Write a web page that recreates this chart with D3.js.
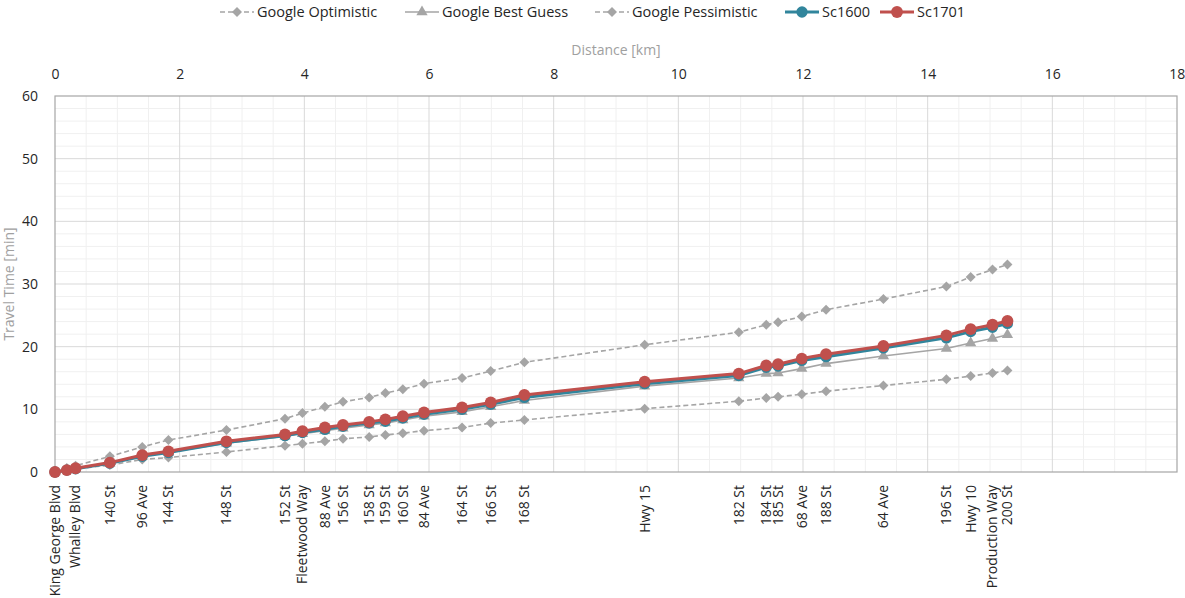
<!DOCTYPE html>
<html>
<head>
<meta charset="utf-8">
<script src="https://cdn.jsdelivr.net/npm/d3@7"></script>
<style>
  body { margin: 0; background: #fff; }
  svg { display: block; font-family: "Open Sans", "Noto Sans", sans-serif; }
</style>
</head>
<body>
<svg id="chart" width="1185" height="598"></svg>
<script>
// ---- data ----
const distances = [0, 0.19, 0.33, 0.88, 1.40, 1.82, 2.75, 3.69, 3.97, 4.33, 4.62, 5.04, 5.30, 5.58, 5.92, 6.53, 6.99, 7.53, 9.46, 10.97, 11.41, 11.60, 11.98, 12.37, 13.29, 14.30, 14.69, 15.04, 15.28];
const stopLabels = ["King George Blvd", "", "Whalley Blvd", "140 St", "96 Ave", "144 St", "148 St", "152 St", "Fleetwood Way", "88 Ave", "156 St", "158 St", "159 St", "160 St", "84 Ave", "164 St", "166 St", "168 St", "Hwy 15", "182 St", "184 St", "185 St", "68 Ave", "188 St", "64 Ave", "196 St", "Hwy 10", "Production Way", "200 St"];
const googleOptimistic = [0, 0.3, 0.5, 1.1, 2.0, 2.3, 3.2, 4.2, 4.5, 4.9, 5.3, 5.6, 5.9, 6.2, 6.6, 7.1, 7.8, 8.3, 10.1, 11.3, 11.8, 12.0, 12.4, 12.9, 13.8, 14.8, 15.3, 15.8, 16.2];
const googleBestGuess = [0, 0.4, 0.6, 1.4, 2.5, 3.1, 4.6, 5.7, 6.1, 6.6, 7.0, 7.5, 7.8, 8.3, 8.9, 9.6, 10.4, 11.4, 13.7, 15.0, 15.7, 15.8, 16.5, 17.3, 18.5, 19.7, 20.6, 21.3, 21.9];
const googlePessimistic = [0, 0.6, 1.0, 2.5, 4.0, 5.1, 6.7, 8.5, 9.4, 10.4, 11.2, 11.9, 12.6, 13.2, 14.1, 15.0, 16.1, 17.5, 20.3, 22.3, 23.5, 23.9, 24.8, 25.9, 27.6, 29.6, 31.1, 32.3, 33.1];
const sc1600 = [0, 0.3, 0.5, 1.4, 2.5, 3.1, 4.7, 5.8, 6.3, 6.8, 7.3, 7.8, 8.1, 8.6, 9.2, 10.0, 10.8, 11.9, 14.1, 15.4, 16.7, 16.9, 17.8, 18.4, 19.8, 21.4, 22.4, 23.1, 23.7];
const sc1701 = [0, 0.3, 0.6, 1.5, 2.7, 3.3, 4.9, 6.0, 6.5, 7.1, 7.5, 8.0, 8.4, 8.9, 9.5, 10.3, 11.1, 12.3, 14.4, 15.7, 17.0, 17.2, 18.1, 18.8, 20.1, 21.8, 22.8, 23.5, 24.1];
const xTicks = [0, 2, 4, 6, 8, 10, 12, 14, 16, 18];
const yTicks = [0, 10, 20, 30, 40, 50, 60];
const seriesNames = ["Google Optimistic", "Google Best Guess", "Google Pessimistic", "Sc1600", "Sc1701"];

// ---- layout ----
const svg = d3.select("#chart");
const L = 55, R = 1177, T = 96, B = 472;
const x = d3.scaleLinear().domain([0, 18]).range([L, R]);
const y = d3.scaleLinear().domain([0, 60]).range([B, T]);

// rotated-square diamond like the spreadsheet marker
const wideDiamond = {
  draw(ctx, size) {
    const h = Math.sqrt(size / 2);
    ctx.moveTo(0, -h); ctx.lineTo(h, 0); ctx.lineTo(0, h); ctx.lineTo(-h, 0); ctx.closePath();
  }
};

const series = [
  { name: seriesNames[0], values: googleOptimistic, color: "#a5a5a5", width: 1.6, dash: "5,3", marker: "diamond", msize: 50 },
  { name: seriesNames[1], values: googleBestGuess, color: "#a5a5a5", width: 1.6, dash: null, marker: "triangle", msize: 55 },
  { name: seriesNames[2], values: googlePessimistic, color: "#a5a5a5", width: 1.6, dash: "5,3", marker: "diamond", msize: 50 },
  { name: seriesNames[3], values: sc1600, color: "#31859c", width: 3, dash: null, marker: "circle", msize: 100 },
  { name: seriesNames[4], values: sc1701, color: "#c0504d", width: 3, dash: null, marker: "circle", msize: 110 }
];
const symType = { diamond: wideDiamond, triangle: d3.symbolTriangle, circle: d3.symbolCircle };

// ---- grid ----
const grid = svg.append("g");
grid.selectAll("line.vmin").data(d3.range(0.5, 18, 0.5).filter(v => v % 2 !== 0))
  .join("line").attr("x1", d => x(d)).attr("x2", d => x(d)).attr("y1", T).attr("y2", B)
  .attr("stroke", "#f0f0f0").attr("stroke-width", 1);
grid.selectAll("line.hmin").data(d3.range(2, 60, 2).filter(v => v % 10 !== 0))
  .join("line").attr("x1", L).attr("x2", R).attr("y1", d => y(d)).attr("y2", d => y(d))
  .attr("stroke", "#f0f0f0").attr("stroke-width", 1);
grid.selectAll("line.vmaj").data(xTicks.slice(1, -1))
  .join("line").attr("x1", d => x(d)).attr("x2", d => x(d)).attr("y1", T).attr("y2", B)
  .attr("stroke", "#d9d9d9").attr("stroke-width", 1);
grid.selectAll("line.hmaj").data(yTicks.slice(1, -1))
  .join("line").attr("x1", L).attr("x2", R).attr("y1", d => y(d)).attr("y2", d => y(d))
  .attr("stroke", "#d9d9d9").attr("stroke-width", 1);
// frame
svg.append("rect").attr("x", L).attr("y", T).attr("width", R - L).attr("height", B - T)
  .attr("fill", "none").attr("stroke", "#a6a6a6").attr("stroke-width", 1.2);

// ---- axes ----
const topAxis = svg.append("g").attr("transform", `translate(0,${T - 14})`)
  .call(d3.axisTop(x).tickValues(xTicks).tickSize(0).tickFormat(d3.format("d")));
topAxis.select(".domain").remove();
topAxis.selectAll("text").attr("font-size", 14).attr("fill", "#262626").attr("font-family", "Open Sans");
topAxis.selectAll("text").filter(d => d === 18).attr("text-anchor", "end").attr("dx", "0.55em");

const leftAxis = svg.append("g").attr("transform", `translate(${L - 14},0)`)
  .call(d3.axisLeft(y).tickValues(yTicks).tickSize(0));
leftAxis.select(".domain").remove();
leftAxis.selectAll("text").attr("font-size", 14).attr("fill", "#262626").attr("font-family", "Open Sans");

svg.append("text").attr("x", (L + R) / 2).attr("y", 55).attr("text-anchor", "middle")
  .attr("font-size", 14).attr("fill", "#a0a0a0").text("Distance [km]");
svg.append("text").attr("transform", `translate(14,${(T + B) / 2}) rotate(-90)`).attr("text-anchor", "middle")
  .attr("font-size", 14).attr("fill", "#a0a0a0").text("Travel Time [min]");

// stop labels
svg.append("g").selectAll("text").data(distances)
  .join("text")
  .attr("transform", d => `translate(${x(d)},${B + 13}) rotate(-90)`)
  .attr("text-anchor", "end").attr("dy", "0.35em")
  .attr("font-size", 14).attr("fill", "#262626")
  .text((d, i) => stopLabels[i]);

// ---- series ----
const line = d3.line().x(d => x(d[0])).y(d => y(d[1]));
series.forEach(s => {
  const pts = distances.map((d, i) => [d, s.values[i]]);
  const g = svg.append("g");
  g.append("path").attr("d", line(pts)).attr("fill", "none")
    .attr("stroke", s.color).attr("stroke-width", s.width)
    .attr("stroke-dasharray", s.dash);
  g.selectAll("path.m").data(pts).join("path")
    .attr("transform", d => `translate(${x(d[0])},${y(d[1])})`)
    .attr("d", d3.symbol().type(symType[s.marker]).size(s.msize))
    .attr("fill", s.color);
});

// ---- legend ----
const legendX = [220, 405, 595, 785, 880];
const lg = svg.append("g");
series.forEach((s, i) => {
  const g = lg.append("g").attr("transform", `translate(${legendX[i]},12)`);
  g.append("line").attr("x1", 0).attr("x2", 34).attr("y1", 0).attr("y2", 0)
    .attr("stroke", s.color).attr("stroke-width", s.width).attr("stroke-dasharray", s.dash);
  g.append("path").attr("transform", "translate(17,0)")
    .attr("d", d3.symbol().type(symType[s.marker]).size(s.msize)).attr("fill", s.color);
  g.append("text").attr("x", 37).attr("y", 0).attr("dy", "0.35em")
    .attr("font-size", 14.5).attr("fill", "#262626").text(s.name);
});
</script>
</body>
</html>
